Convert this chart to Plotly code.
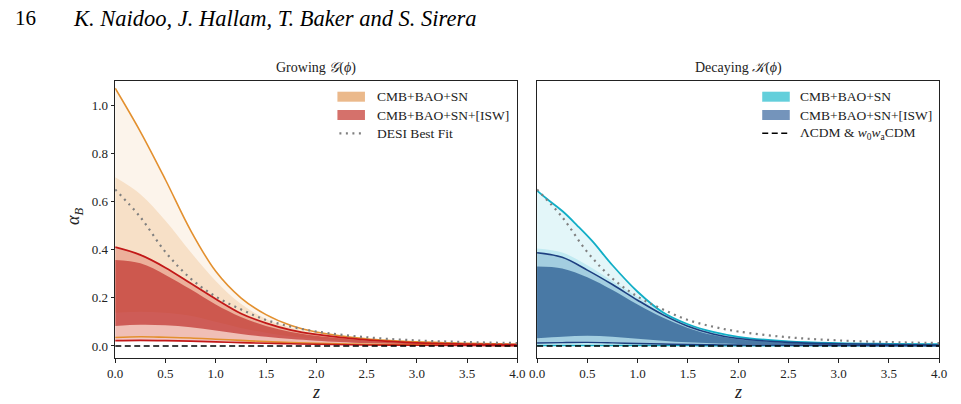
import plotly.graph_objects as go

# ---------------- data ----------------
Z = [0.0, 0.25, 0.5, 0.75, 1.0, 1.25, 1.5, 1.75, 2.0, 2.5, 3.0, 3.5, 4.0]

# Growing G(phi)
g_cmb95_up = [1.07, 0.89, 0.69, 0.48, 0.31, 0.20, 0.13, 0.085, 0.058, 0.030, 0.017, 0.011, 0.007]
g_cmb95_lo = [0.035, 0.038, 0.036, 0.033, 0.028, 0.023, 0.018, 0.014, 0.011, 0.007, 0.005, 0.003, 0.002]
g_cmb68_up = [0.70, 0.63, 0.52, 0.39, 0.27, 0.175, 0.112, 0.076, 0.053, 0.028, 0.016, 0.010, 0.007]
g_cmb68_lo = [0.138, 0.142, 0.138, 0.125, 0.100, 0.075, 0.055, 0.040, 0.030, 0.017, 0.010, 0.007, 0.005]
g_isw95_up = [0.41, 0.378, 0.325, 0.26, 0.195, 0.135, 0.095, 0.066, 0.048, 0.025, 0.013, 0.008, 0.005]
g_isw95_lo = [0.022, 0.023, 0.022, 0.020, 0.017, 0.014, 0.011, 0.009, 0.007, 0.004, 0.003, 0.002, 0.001]
g_isw68_up = [0.357, 0.343, 0.295, 0.235, 0.172, 0.12, 0.083, 0.058, 0.042, 0.022, 0.011, 0.007, 0.004]
g_isw68_lo = [0.083, 0.088, 0.086, 0.078, 0.064, 0.050, 0.038, 0.029, 0.022, 0.012, 0.007, 0.005, 0.003]

desi_best = [0.65, 0.535, 0.39, 0.28, 0.205, 0.152, 0.108, 0.08, 0.06, 0.036, 0.023, 0.016, 0.012]
lcdm = [0.0] * len(Z)

# Decaying K(phi)
ZC = [0.0, 0.1, 0.26, 0.4, 0.55, 0.75, 1.0, 1.25, 1.5, 1.75, 2.0, 2.5, 3.0, 3.5, 4.0]
k_cmb95_up = [0.645, 0.61, 0.557, 0.50, 0.435, 0.335, 0.225, 0.14, 0.09, 0.058, 0.038, 0.019, 0.012, 0.009, 0.007]
k_cmb95_lo = [0.002, 0.002, 0.002, 0.002, 0.002, 0.002, 0.002, 0.002, 0.002, 0.001, 0.001, 0.001, 0.001, 0.001, 0.001]
k_cmb68_up = [0.405, 0.388, 0.335, 0.27, 0.203, 0.142, 0.092, 0.057, 0.036, 0.017, 0.010, 0.007, 0.005]
k_cmb68_lo = [0.006, 0.007, 0.007, 0.006, 0.005, 0.004, 0.003, 0.003, 0.002, 0.002, 0.001, 0.001, 0.001]
k_isw95_up = [0.387, 0.368, 0.315, 0.255, 0.19, 0.13, 0.082, 0.05, 0.031, 0.015, 0.009, 0.006, 0.004]
k_isw95_lo = [0.012, 0.014, 0.015, 0.013, 0.010, 0.008, 0.006, 0.005, 0.004, 0.003, 0.002, 0.001, 0.001]
k_isw68_up = [0.33, 0.322, 0.285, 0.232, 0.172, 0.118, 0.075, 0.045, 0.028, 0.013, 0.008, 0.005, 0.004]
k_isw68_lo = [0.032, 0.038, 0.042, 0.038, 0.030, 0.022, 0.015, 0.011, 0.008, 0.005, 0.003, 0.002, 0.002]

x_ticks = [0.0, 0.5, 1.0, 1.5, 2.0, 2.5, 3.0, 3.5, 4.0]
y_ticks = [0.0, 0.2, 0.4, 0.6, 0.8, 1.0]

legend_left = ["CMB+BAO+SN", "CMB+BAO+SN+[ISW]", "DESI Best Fit"]
legend_right = ["CMB+BAO+SN", "CMB+BAO+SN+[ISW]", "ΛCDM &amp; <i>w</i><sub>0</sub><i>w</i><sub>a</sub>CDM"]

# ---------------- style ----------------
W, H = 961, 404
FONT = "Liberation Serif"
ORANGE = "#e3902f"
RED = "#c21818"
CYAN = "#12aec6"
NAVY = "#1d3f80"
GREY = "#7f7f7f"

fig = go.Figure()


def band(x, lo, up, color, xa, ya):
    fig.add_trace(go.Scatter(x=x, y=lo, mode="lines", line=dict(width=0, shape="spline"),
                             xaxis=xa, yaxis=ya, showlegend=False, hoverinfo="skip"))
    fig.add_trace(go.Scatter(x=x, y=up, mode="lines", line=dict(width=0, shape="spline"),
                             fill="tonexty", fillcolor=color,
                             xaxis=xa, yaxis=ya, showlegend=False, hoverinfo="skip"))


def line(x, y, color, width, xa, ya, dash=None):
    fig.add_trace(go.Scatter(x=x, y=y, mode="lines",
                             line=dict(color=color, width=width, shape="spline", dash=dash),
                             xaxis=xa, yaxis=ya, showlegend=False, hoverinfo="skip"))


# left panel
band(Z, g_cmb95_lo, g_cmb95_up, "rgba(230,145,56,0.10)", "x", "y")
band(Z, g_cmb68_lo, g_cmb68_up, "rgba(230,145,56,0.20)", "x", "y")
band(Z, g_isw95_lo, g_isw95_up, "rgba(205,40,30,0.26)", "x", "y")
band(Z, g_isw68_lo, g_isw68_up, "rgba(190,45,42,0.68)", "x", "y")
line(Z, g_cmb95_up, ORANGE, 1.6, "x", "y")
line(Z, g_cmb95_lo, ORANGE, 1.6, "x", "y")
line(Z, g_isw95_up, RED, 1.8, "x", "y")
line(Z, g_isw95_lo, RED, 1.6, "x", "y")
line(Z, desi_best, GREY, 2.2, "x", "y", dash="2px,4.5px")
line(Z, lcdm, "black", 1.6, "x", "y", dash="6px,3.5px")

# right panel
band(ZC, k_cmb95_lo, k_cmb95_up, "rgba(0,170,200,0.11)", "x2", "y2")
band(Z, k_cmb68_lo, k_cmb68_up, "rgba(0,170,200,0.15)", "x2", "y2")
band(Z, k_isw95_lo, k_isw95_up, "rgba(60,110,160,0.22)", "x2", "y2")
band(Z, k_isw68_lo, k_isw68_up, "rgba(50,100,150,0.80)", "x2", "y2")
line(ZC, k_cmb95_up, CYAN, 1.8, "x2", "y2")
line(ZC, k_cmb95_lo, CYAN, 1.6, "x2", "y2")
line(Z, k_isw95_up, NAVY, 1.6, "x2", "y2")
line(Z, k_isw95_lo, NAVY, 1.4, "x2", "y2")
line(Z, desi_best, GREY, 2.2, "x2", "y2", dash="2px,4.5px")
line(Z, lcdm, "black", 1.6, "x2", "y2", dash="6px,3.5px")


def px(v):
    return v / W


def py(v):
    return 1 - v / H


ax_common = dict(showgrid=False, zeroline=False, showline=True, linecolor="#222222", linewidth=1,
                 mirror=True, ticks="outside", ticklen=3.5, tickwidth=0.8, tickcolor="#222222",
                 tickfont=dict(family=FONT, size=13, color="#222222"))

ydom = [py(358), py(81)]
fig.update_layout(
    width=W, height=H, margin=dict(l=0, r=0, t=0, b=0),
    paper_bgcolor="white", plot_bgcolor="white", showlegend=False,
    xaxis=dict(domain=[px(109), px(518)], range=[0, 4], tickvals=x_ticks, tickformat=".1f",
               anchor="y", **ax_common),
    yaxis=dict(domain=ydom, range=[-0.05, 1.10], tickvals=y_ticks, tickformat=".1f",
               anchor="x", **ax_common),
    xaxis2=dict(domain=[px(538), px(947)], range=[0, 4], tickvals=x_ticks, tickformat=".1f",
                anchor="y2", **ax_common),
    yaxis2=dict(domain=ydom, range=[-0.05, 1.10], anchor="x2", **{**ax_common, "ticks": ""},
                showticklabels=False),
)

ann = []
shapes = []


def text(x, y, s, size, anchor="center", angle=0, color="#222222"):
    ann.append(dict(x=px(x), y=py(y), xref="paper", yref="paper", text=s, showarrow=False,
                    xanchor=anchor, yanchor="middle", textangle=angle,
                    font=dict(family=FONT, size=size, color=color)))


# header
text(5, 18, "16", 21, anchor="left", color="black")
text(64, 18, "<i>K. Naidoo, J. Hallam, T. Baker and S. Sirera</i>", 22.5, anchor="left", color="black")
# titles
text(313.5, 68, "Growing <i>𝒢</i>(<i>ϕ</i>)", 14, color="#222222")
text(742.5, 68, "Decaying <i>𝒦</i>(<i>ϕ</i>)", 14, color="#222222")
# axis labels
text(67, 216, "<i>α</i><sub><i>B</i></sub>", 18, angle=-90)
text(313.5, 392, "<i>z</i>", 18)
text(742.5, 392, "<i>z</i>", 18)

rows = [96.7, 115.0, 133.3]
# left legend
for i, col in enumerate(["#ebb98b", "#d5716b"]):
    shapes.append(dict(type="rect", xref="paper", yref="paper", x0=px(335), x1=px(363),
                       y0=py(rows[i] + 5), y1=py(rows[i] - 5), fillcolor=col, line=dict(width=0)))
shapes.append(dict(type="line", xref="paper", yref="paper", x0=px(337), x1=px(363),
                   y0=py(rows[2]), y1=py(rows[2]), line=dict(color=GREY, width=2.2, dash="2px,4.5px")))
for i, lab in enumerate(legend_left):
    text(373, rows[i], lab, 13.5, anchor="left")

# right legend
for i, col in enumerate(["#63cfdb", "#7494bb"]):
    shapes.append(dict(type="rect", xref="paper", yref="paper", x0=px(767), x1=px(795),
                       y0=py(rows[i] + 5), y1=py(rows[i] - 5), fillcolor=col, line=dict(width=0)))
shapes.append(dict(type="line", xref="paper", yref="paper", x0=px(767), x1=px(795),
                   y0=py(rows[2]), y1=py(rows[2]), line=dict(color="black", width=1.6, dash="6px,3.5px")))
for i, lab in enumerate(legend_right):
    text(803, rows[i], lab, 13.5, anchor="left")

fig.update_layout(annotations=ann, shapes=shapes)
fig.write_html("out.html")
